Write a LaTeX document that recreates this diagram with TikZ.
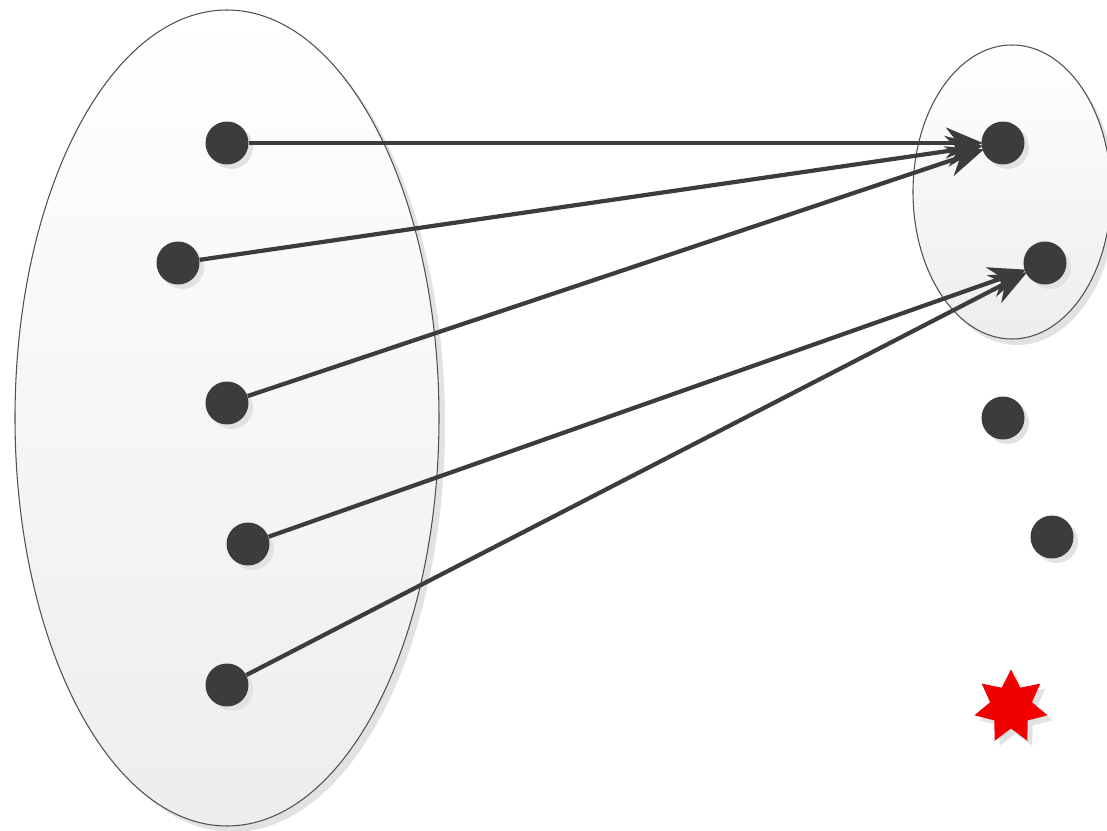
\documentclass[tikz,border=0pt]{standalone}
\usepackage{xcolor}
\usetikzlibrary{arrows.meta}
\usetikzlibrary{shapes.geometric}
\usetikzlibrary{shadows}

\definecolor{dotgrey}{HTML}{3C3C3C}
\definecolor{shadowgrey}{HTML}{E2E2E2}
\definecolor{rimgrey}{HTML}{505050}

\tikzset{
  dot/.style={circle, fill=dotgrey, minimum size=0.86cm, inner sep=0pt,
    drop shadow={shadow xshift=0.09cm, shadow yshift=-0.09cm, fill=shadowgrey, opacity=1}},
  maparrow/.style={line width=2.4pt, draw=dotgrey,
    -{Stealth[length=0.74cm, width=0.62cm, inset=0.24cm]}, shorten >=-1pt},
}

\begin{document}
\begin{tikzpicture}[x=0.02cm, y=-0.02cm, line join=round]
\useasboundingbox (0,0) rectangle (1107,831);

% Domain and codomain sets, with their shadows
\fill[shadowgrey] (233,424) ellipse (212 and 408);
\shade[top color=white, bottom color=black!7, draw=rimgrey, line width=0.6pt]
  (227,418) ellipse (212 and 408);
\fill[shadowgrey] (1017,198) ellipse (99 and 147);
\shade[top color=white, bottom color=black!7, draw=rimgrey, line width=0.6pt]
  (1012,192) ellipse (99 and 147);

% Elements of the domain
\node[dot] (a1) at (227,143) {};
\node[dot] (a2) at (178,263) {};
\node[dot] (a3) at (227,403) {};
\node[dot] (a4) at (248,544) {};
\node[dot] (a5) at (227,685) {};

% Elements on the right
\node[dot] (b1) at (1003,143) {};
\node[dot] (b2) at (1045,263) {};
\node[dot] (b3) at (1003,418) {};
\node[dot] (b4) at (1052,537) {};

% Odd one out
\node[star, star points=7, star point ratio=1.75, minimum size=1.5cm, inner sep=0pt,
  fill=red!95!black, drop shadow={shadow xshift=0.1cm, shadow yshift=-0.1cm, fill=shadowgrey, opacity=1}]
  (odd) at (1011,707) {};

% The mapping
\draw[maparrow] (a1) -- (b1);
\draw[maparrow] (a2) -- (b1);
\draw[maparrow] (a3) -- (b1);
\draw[maparrow] (a4) -- (b2);
\draw[maparrow] (a5) -- (b2);
\end{tikzpicture}
\end{document}
